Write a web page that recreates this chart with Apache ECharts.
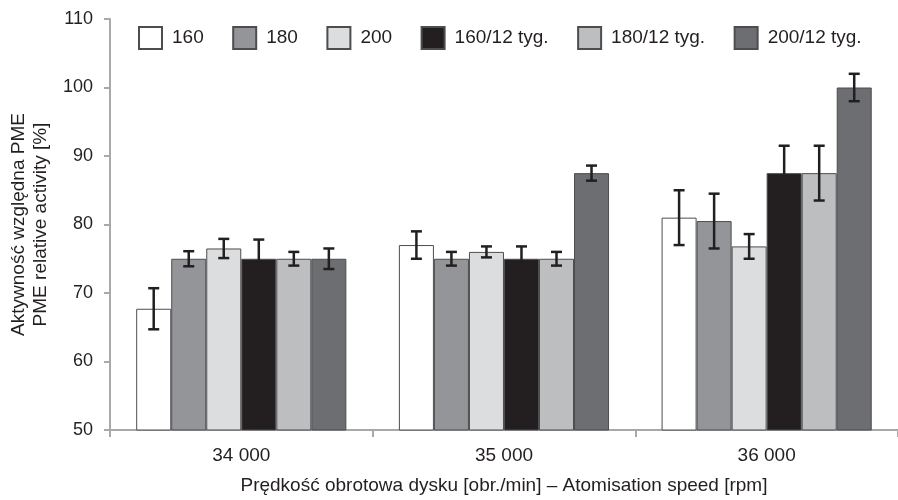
<!DOCTYPE html>
<html><head><meta charset="utf-8">
<script src="https://cdn.jsdelivr.net/npm/echarts@6/dist/echarts.min.js"></script>
<style>html,body{margin:0;padding:0;background:#fff}#c{width:898px;height:500px}</style>
</head><body><div id="c"></div>
<script>
const categories = ['34 000', '35 000', '36 000'];
const seriesNames = ['160', '180', '200', '160/12 tyg.', '180/12 tyg.', '200/12 tyg.'];
const v160 = [67.7, 77, 81];
const v180 = [75, 75, 80.5];
const v200 = [76.5, 76, 76.8];
const v160w = [75, 75, 87.5];
const v180w = [75, 75, 87.5];
const v200w = [75, 87.5, 100];
const e160 = [3, 2, 4];
const e180 = [1.1, 1, 4];
const e200 = [1.4, 0.8, 1.8];
const e160w = [2.8, 1.8, 4];
const e180w = [1, 1, 4];
const e200w = [1.5, 1.1, 2];
const yTicks = [50, 60, 70, 80, 90, 100, 110];

const colors = ['#ffffff', '#939598', '#dcdddf', '#231f20', '#bcbec0', '#6d6e71'];
const values = [v160, v180, v200, v160w, v180w, v200w];
const errors = [e160, e180, e200, e160w, e180w, e200w];
const FONT = '"Liberation Sans", Arial, sans-serif';
const TXT = '#231f20';

const errData = [];
values.forEach((arr, k) => arr.forEach((v, i) => errData.push([i, v, errors[k][i], k])));

const chart = echarts.init(document.getElementById('c'), null, {renderer: 'canvas'});
const series = values.map((arr, k) => ({
  name: seriesNames[k],
  type: 'bar',
  data: arr,
  barGap: '0%',
  barCategoryGap: '20%',
  itemStyle: {color: colors[k], borderColor: '#4d4d4f', borderWidth: 1},
  emphasis: {disabled: true}
}));
series.push({
  type: 'custom',
  name: 'err',
  data: errData,
  z: 10,
  silent: true,
  renderItem: function (params, api) {
    const x = api.value(0), v = api.value(1), e = api.value(2), k = api.value(3);
    const c = api.coord([x, v]);
    const band = api.size([1, 0])[0];
    const bw = band * 0.8 / 6;
    const cx = c[0] + (k - 2.5) * bw;
    const top = api.coord([x, v + e])[1];
    const bot = api.coord([x, v - e])[1];
    const st = {stroke: '#231f20', lineWidth: 2.5};
    const hw = 5.5;
    return {type: 'group', children: [
      {type: 'line', shape: {x1: cx, y1: top, x2: cx, y2: bot}, style: st},
      {type: 'line', shape: {x1: cx - hw, y1: top, x2: cx + hw, y2: top}, style: st},
      {type: 'line', shape: {x1: cx - hw, y1: bot, x2: cx + hw, y2: bot}, style: st}
    ]};
  }
});

chart.setOption({
  animation: false,
  textStyle: {fontFamily: FONT, color: TXT},
  legend: {
    data: seriesNames,
    left: 138, top: 26,
    padding: 0,
    itemWidth: 23, itemHeight: 22,
    itemGap: 28.5,
    icon: 'rect',
    textStyle: {fontFamily: FONT, fontSize: 19, color: TXT, padding: [0, 0, 0, 5]},
    selectedMode: false
  },
  grid: {left: 107, top: 19, bottom: 65, width: 799.5, containLabel: false},
  xAxis: {
    type: 'category',
    data: categories,
    name: 'Prędkość obrotowa dysku [obr./min] – Atomisation speed [rpm]',
    nameLocation: 'middle',
    nameGap: 46,
    nameTextStyle: {fontFamily: FONT, fontSize: 19, color: TXT},
    axisLine: {lineStyle: {color: '#a7a9ac', width: 2}},
    axisTick: {show: true, length: 7, lineStyle: {color: '#a7a9ac', width: 2}},
    axisLabel: {fontFamily: FONT, fontSize: 19, color: TXT, margin: 16}
  },
  yAxis: {
    type: 'value',
    min: yTicks[0], max: yTicks[yTicks.length - 1], interval: 10,
    name: 'Aktywność względna PME\nPME relative activity [%]',
    nameLocation: 'middle',
    nameRotate: 90,
    nameGap: 53,
    nameTextStyle: {fontFamily: FONT, fontSize: 19, color: TXT, lineHeight: 22},
    axisLine: {show: true, lineStyle: {color: '#a7a9ac', width: 2}},
    axisTick: {show: true, length: 6, lineStyle: {color: '#a7a9ac', width: 2}},
    axisLabel: {fontFamily: FONT, fontSize: 18, color: TXT, margin: 17},
    splitLine: {show: false}
  },
  series: series
});
</script></body></html>
